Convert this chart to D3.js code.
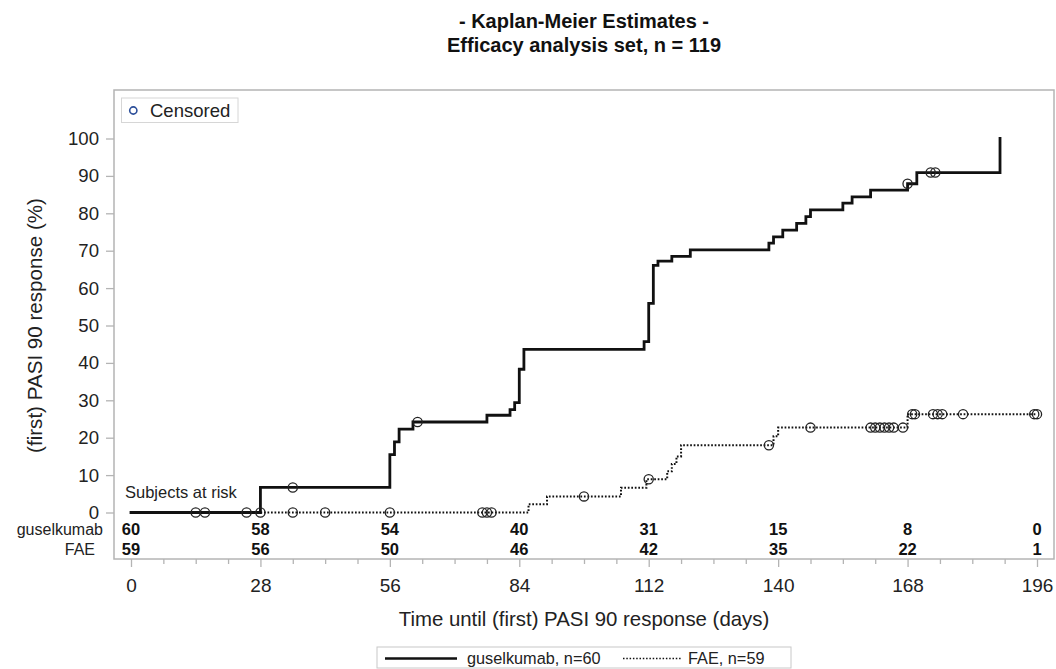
<!DOCTYPE html>
<html>
<head>
<meta charset="utf-8">
<script src="https://cdn.jsdelivr.net/npm/d3@7"></script>
<style>
  html, body { margin: 0; padding: 0; background: #fff; }
  svg { display: block; font-family: "Liberation Sans", Arial, sans-serif; }
</style>
</head>
<body>
<svg id="chart" width="1056" height="669"></svg>
<script>
// ---------------- data ----------------
const titleLines = ["- Kaplan-Meier Estimates -", "Efficacy analysis set, n = 119"];
const xTicks = [0, 28, 56, 84, 112, 140, 168, 196];
const xMinorTicks = d3.range(0, 197, 7);
const yTicks = [0, 10, 20, 30, 40, 50, 60, 70, 80, 90, 100];

// guselkumab step function (event time in days, cumulative % responders)
const gusTimes = [0, 28, 56, 57, 58, 61, 77, 82, 83, 84, 85, 111, 112, 113, 114, 117, 121, 138, 139, 141, 144, 146, 147, 154, 156, 160, 168, 170, 188];
const gusPct   = [0, 6.7, 15.5, 18.9, 22.3, 24.2, 26.0, 27.5, 29.4, 38.3, 43.6, 45.7, 55.9, 66.1, 67.2, 68.5, 70.2, 72.0, 73.7, 75.5, 77.3, 79.1, 80.9, 82.7, 84.4, 86.2, 87.9, 90.9, 100];
const gusEnd = 188;
const gusCensor = [14, 25, 35, 62, 168, 173, 174];

// FAE step function
const faeTimes = [0, 86, 90, 106, 111.5, 116, 117, 118, 119, 139, 140, 168];
const faePct   = [0, 2.2, 4.3, 6.6, 8.9, 11.0, 13.0, 15.0, 18.0, 20.4, 22.7, 26.3];
const faeEnd = 196;
const faeCensor = [16, 28, 35, 42, 56, 76, 77, 78, 98, 112, 138, 147, 160, 161, 162, 163, 164, 165, 167, 169, 169.6, 173.5, 174.5, 175.5, 180, 195.4, 196];

// subjects at risk
const riskTimes = [0, 28, 56, 84, 112, 140, 168, 196];
const gusRisk = [60, 58, 54, 40, 31, 15, 8, 0];
const faeRisk = [59, 56, 50, 46, 42, 35, 22, 1];

const seriesNames = ["guselkumab", "FAE"];
const legendLabels = ["guselkumab, n=60", "FAE, n=59"];

// ---------------- layout ----------------
const svg = d3.select("#chart");
const frame = {left: 114, top: 90, right: 1054, bottom: 559};
const x = d3.scaleLinear().domain([0, 196]).range([131, 1037]);
const y = d3.scaleLinear().domain([0, 100]).range([512.5, 138.5]);
const textCol = "#222";
const gridCol = "#b4b4b4";

// title
svg.append("g").selectAll("text").data(titleLines).join("text")
  .attr("x", 584).attr("y", (d, i) => 28 + i * 23.5)
  .attr("text-anchor", "middle").attr("font-size", 20).attr("font-weight", "bold")
  .attr("fill", "#111").text(d => d);

// frame
svg.append("rect").attr("x", frame.left).attr("y", frame.top)
  .attr("width", frame.right - frame.left).attr("height", frame.bottom - frame.top)
  .attr("fill", "none").attr("stroke", gridCol).attr("stroke-width", 1.5);

// y axis
const yAxis = svg.append("g").attr("transform", `translate(${frame.left},0)`)
  .call(d3.axisLeft(y).tickValues(yTicks).tickSize(8).tickPadding(7));
yAxis.select(".domain").remove();
yAxis.selectAll("line").attr("stroke", gridCol).attr("stroke-width", 1.3);
yAxis.selectAll("text").attr("font-size", 18.6).attr("fill", textCol)
  .attr("font-family", "Liberation Sans, Arial, sans-serif");

// x axis major
const xAxis = svg.append("g").attr("transform", `translate(0,${frame.bottom})`)
  .call(d3.axisBottom(x).tickValues(xTicks).tickSize(8).tickPadding(12));
xAxis.select(".domain").remove();
xAxis.selectAll("line").attr("stroke", gridCol).attr("stroke-width", 1.3);
xAxis.selectAll("text").attr("font-size", 19).attr("fill", textCol)
  .attr("font-family", "Liberation Sans, Arial, sans-serif");
// x axis minor
const xMinor = svg.append("g").attr("transform", `translate(0,${frame.bottom})`)
  .call(d3.axisBottom(x).tickValues(xMinorTicks.filter(v => !xTicks.includes(v))).tickSize(5).tickFormat(""));
xMinor.select(".domain").remove();
xMinor.selectAll("line").attr("stroke", gridCol).attr("stroke-width", 1.3);

// axis labels
svg.append("text").attr("x", 584).attr("y", 626).attr("text-anchor", "middle")
  .attr("font-size", 20.4).attr("fill", textCol).text("Time until (first) PASI 90 response (days)");
svg.append("text").attr("transform", `translate(41.5,${(y(0) + y(100)) / 2}) rotate(-90)`)
  .attr("text-anchor", "middle").attr("font-size", 20.6).attr("fill", textCol)
  .text("(first) PASI 90 response (%)");

// curves
function stepPoints(times, pct, end) {
  const pts = times.map((t, i) => [t, pct[i]]);
  const last = pts[pts.length - 1];
  if (last[0] < end) pts.push([end, last[1]]);
  return pts;
}
function valueAt(times, pct, t) {
  let v = pct[0];
  for (let i = 0; i < times.length; i++) if (times[i] <= t) v = pct[i];
  return v;
}
const line = d3.line().x(d => x(d[0])).y(d => y(d[1])).curve(d3.curveStepAfter);

const curves = svg.append("g");
curves.append("path").datum(stepPoints(faeTimes, faePct, faeEnd))
  .attr("d", line).attr("fill", "none").attr("stroke", "#111")
  .attr("stroke-width", 2).attr("stroke-dasharray", "1.7,1.8");
curves.append("path").datum(stepPoints(gusTimes, gusPct, gusEnd))
  .attr("d", line).attr("fill", "none").attr("stroke", "#111")
  .attr("stroke-width", 2.8).attr("stroke-linejoin", "miter").attr("stroke-linecap", "square");

// censor marks
const censorPts = gusCensor.map(t => [t, valueAt(gusTimes, gusPct, t)])
  .concat(faeCensor.map(t => [t, valueAt(faeTimes, faePct, t)]));
curves.append("g").selectAll("circle").data(censorPts).join("circle")
  .attr("cx", d => x(d[0])).attr("cy", d => y(d[1])).attr("r", 4.6)
  .attr("fill", "none").attr("stroke", "#222").attr("stroke-width", 1.3);

// censored legend (inset)
const inset = svg.append("g");
inset.append("rect").attr("x", 121.5).attr("y", 98).attr("width", 116.5).attr("height", 24.5)
  .attr("fill", "#fff").attr("stroke", "#d6d6d6").attr("stroke-width", 1);
inset.append("circle").attr("cx", 133.3).attr("cy", 110.5).attr("r", 3.6)
  .attr("fill", "none").attr("stroke", "#2d4f9a").attr("stroke-width", 1.6);
inset.append("text").attr("x", 150).attr("y", 117).attr("font-size", 18.5)
  .attr("fill", textCol).text("Censored");

// at-risk table
svg.append("text").attr("x", 125).attr("y", 498).attr("font-size", 16.5)
  .attr("fill", textCol).text("Subjects at risk");
const riskRows = [gusRisk, faeRisk];
const rowBase = [534.5, 555];
const rowLabelEnd = [103, 95];
riskRows.forEach((row, r) => {
  svg.append("text").attr("x", rowLabelEnd[r]).attr("y", rowBase[r]).attr("text-anchor", "end")
    .attr("font-size", 16).attr("fill", textCol).text(seriesNames[r]);
  svg.append("g").selectAll("text").data(row).join("text")
    .attr("x", (d, i) => x(riskTimes[i])).attr("y", rowBase[r])
    .attr("text-anchor", "middle").attr("font-size", 16.5).attr("font-weight", "bold")
    .attr("fill", "#111").text(d => d);
});

// bottom legend
const leg = svg.append("g");
leg.append("rect").attr("x", 377).attr("y", 647).attr("width", 414).attr("height", 21)
  .attr("fill", "#fff").attr("stroke", "#c8c8c8").attr("stroke-width", 1);
leg.append("line").attr("x1", 385).attr("x2", 457).attr("y1", 658.5).attr("y2", 658.5)
  .attr("stroke", "#111").attr("stroke-width", 2.7);
leg.append("text").attr("x", 467).attr("y", 664).attr("font-size", 16.3)
  .attr("fill", textCol).text(legendLabels[0]);
leg.append("line").attr("x1", 623).attr("x2", 681).attr("y1", 658.5).attr("y2", 658.5)
  .attr("stroke", "#111").attr("stroke-width", 1.6).attr("stroke-dasharray", "1.5,1.8");
leg.append("text").attr("x", 688).attr("y", 664).attr("font-size", 16.3)
  .attr("fill", textCol).text(legendLabels[1]);
</script>
</body>
</html>
